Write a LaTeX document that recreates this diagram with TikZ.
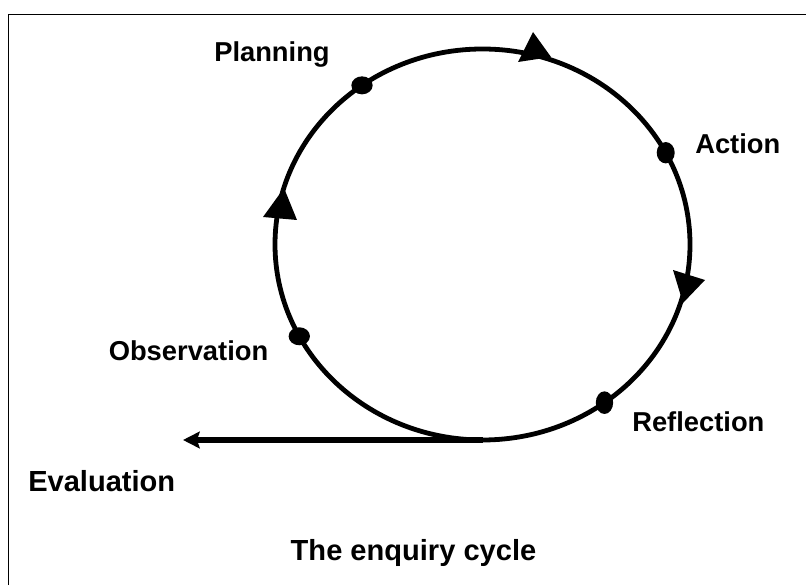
\documentclass[tikz,border=0pt]{standalone}
\usepackage{fontspec}
\setmainfont{Liberation Sans}
\usetikzlibrary{arrows.meta,shapes.geometric}

\begin{document}
\begin{tikzpicture}[x=0.75pt,y=0.75pt,
        stage/.style={ellipse,fill=black,inner sep=0pt},
        stagename/.style={inner sep=0pt,anchor=base west,font=\fontsize{20.5}{24}\selectfont\bfseries},
        bigname/.style={inner sep=0pt,font=\fontsize{21.8}{26}\selectfont\bfseries},
        head/.style={fill=black}]
            \useasboundingbox (0,0) rectangle (806,585);
            % frame, only the top and left edge are in view
            \draw [line width=1pt] (8.5,0) -- (8.5,570.5) -- (806,570.5);

            % the cycle
            \coordinate (c) at (482.5,340.5);
            \draw [line width=3.6pt] (c) ellipse [x radius=207.5, y radius=195.5];

            % stages % 125.5  28  208  306
            \node [stage,minimum width=16pt,minimum height=13.5pt] (plan)   at ([shift={(125.5:207.5 and 195.5)}]c) {};
            \node [stage,minimum width=13.5pt,minimum height=16pt] (act)    at ([shift={(28:207.5 and 195.5)}]c) {};
            \node [stage,minimum width=16pt,minimum height=13.5pt] (obs)    at ([shift={(208:207.5 and 195.5)}]c) {};
            \node [stage,minimum width=13pt,minimum height=17pt]   (refl)   at ([shift={(306:207.5 and 195.5)}]c) {};

            % arrow heads on the cycle
            \fill [head] (518,523) -- (551,528) -- (533,553) -- cycle;
            \fill [head] (263,368) -- (297,365) -- (284,397) -- cycle;
            \fill [head] (673,315) -- (705,305) -- (683,282) -- cycle;

            % way out
            \coordinate (low) at ([shift={(270:207.5 and 195.5)}]c);
            \coordinate (out) at (183,145);
            \draw [line width=4pt,-{Stealth[length=12.5pt,width=12.5pt,inset=2pt]}] (low) -- (out);

            \node [stagename] (plan label) at (214,523.3) {Planning};
            \node [stagename] (act label)  at (695,431.3) {Action};
            \node [stagename] (obs label)  at (108.5,224.5) {Observation};
            \node [stagename] (refl label) at (632,153.3) {Reflection};
            \node [bigname,anchor=base west] (eval) at (28,93.3) {Evaluation};
            \node [bigname,anchor=base] (title) at (413.5,25) {The enquiry cycle};
        \end{tikzpicture}
\end{document}
